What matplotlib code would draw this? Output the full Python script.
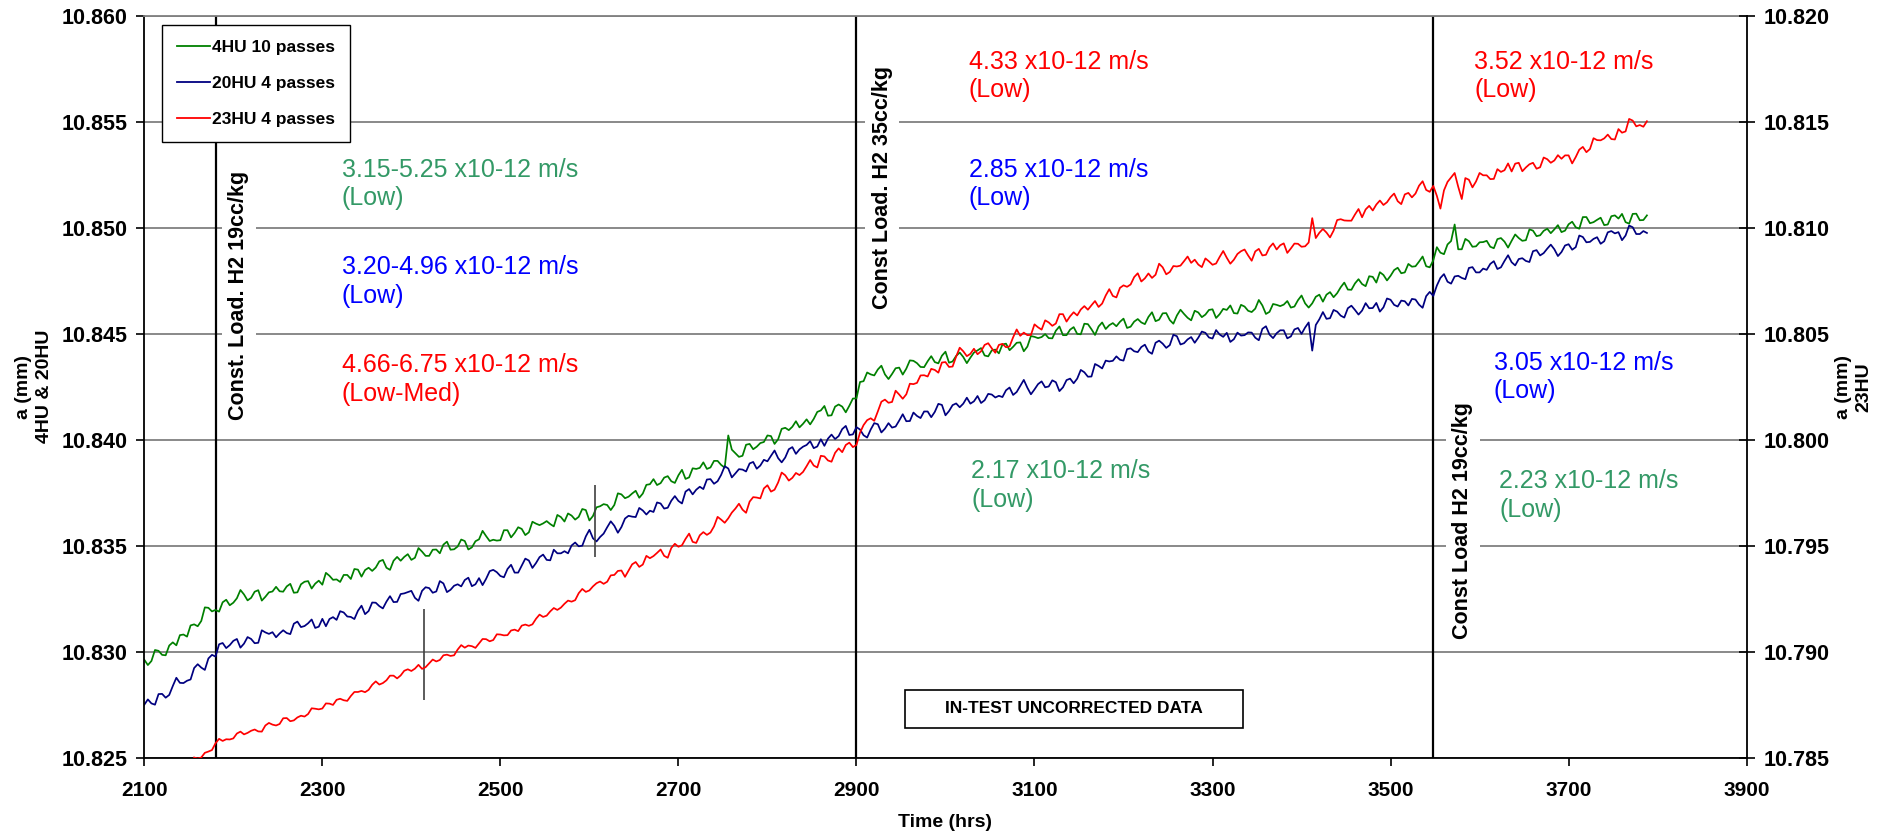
import matplotlib
matplotlib.use("Agg")
import numpy as np
import matplotlib.pyplot as plt
from matplotlib.patches import Rectangle
from matplotlib.ticker import FormatStrFormatter

plt.rcParams['font.family'] = ['Liberation Sans', 'DejaVu Sans']

# ---------------- data ----------------
x_ticks = [2100, 2300, 2500, 2700, 2900, 3100, 3300, 3500, 3700, 3900]
left_ticks = [10.825, 10.830, 10.835, 10.840, 10.845, 10.850, 10.855, 10.860]
right_ticks = [10.785, 10.790, 10.795, 10.800, 10.805, 10.810, 10.815, 10.820]

series_names = ['4HU 10 passes', '20HU 4 passes', '23HU 4 passes']

# readings every 8 h (even samples) and the readings in between (odd samples)
hours_4hu = np.arange(2100, 3789, 4)
hours_20hu = np.arange(2100, 3789, 4)
hours_23hu = np.arange(2156, 3789, 4)

a_4hu_even = [
    10.82962, 10.82956, 10.83004, 10.82983, 10.83044, 10.83078, 10.83071, 10.83129, 10.83145, 10.83207,
    10.83197, 10.83233, 10.83219, 10.83252, 10.83270, 10.83254, 10.83290, 10.83259, 10.83284, 10.83285,
    10.83308, 10.83278, 10.83318, 10.83333, 10.83321, 10.83316, 10.83358, 10.83341, 10.83362, 10.83343,
    10.83387, 10.83385, 10.83381, 10.83426, 10.83396, 10.83429, 10.83429, 10.83460, 10.83443, 10.83472,
    10.83452, 10.83482, 10.83505, 10.83481, 10.83496, 10.83522, 10.83492, 10.83530, 10.83545, 10.83528,
    10.83526, 10.83573, 10.83560, 10.83579, 10.83563, 10.83604, 10.83605, 10.83602, 10.83645, 10.83614,
    10.83642, 10.83636, 10.83668, 10.83640, 10.83686, 10.83692, 10.83692, 10.83742, 10.83731, 10.83759,
    10.83746, 10.83790, 10.83786, 10.83821, 10.83804, 10.83832, 10.83815, 10.83865, 10.83867, 10.83862,
    10.83900, 10.83881, 10.84020, 10.83936, 10.83924, 10.83980, 10.83967, 10.83989, 10.84017, 10.84002,
    10.84056, 10.84061, 10.84058, 10.84096, 10.84098, 10.84138, 10.84113, 10.84156, 10.84156, 10.84160,
    10.84195, 10.84276, 10.84308, 10.84331, 10.84308, 10.84310, 10.84340, 10.84335, 10.84372, 10.84343,
    10.84370, 10.84366, 10.84396, 10.84363, 10.84395, 10.84390, 10.84387, 10.84421, 10.84397, 10.84421,
    10.84407, 10.84453, 10.84438, 10.84459, 10.84439, 10.84485, 10.84484, 10.84479, 10.84514, 10.84493,
    10.84519, 10.84499, 10.84547, 10.84521, 10.84534, 10.84522, 10.84550, 10.84556, 10.84527, 10.84557,
    10.84553, 10.84579, 10.84559, 10.84596, 10.84564, 10.84586, 10.84593, 10.84563, 10.84600, 10.84590,
    10.84615, 10.84592, 10.84612, 10.84597, 10.84636, 10.84608, 10.84618, 10.84633, 10.84603, 10.84636,
    10.84637, 10.84623, 10.84658, 10.84643, 10.84643, 10.84684, 10.84684, 10.84672, 10.84719, 10.84708,
    10.84737, 10.84734, 10.84771, 10.84741, 10.84777, 10.84773, 10.84811, 10.84789, 10.84816, 10.84840,
    10.84818, 10.84846, 10.84882, 10.84921, 10.85015, 10.84898, 10.84936, 10.84912, 10.84932, 10.84910,
    10.84946, 10.84934, 10.84938, 10.84951, 10.84941, 10.84986, 10.84964, 10.84995, 10.84992, 10.84979,
    10.85016, 10.85002, 10.85050, 10.85021, 10.85037, 10.85012, 10.85054, 10.85043, 10.85026, 10.85065,
    10.85035, 10.85058]

a_4hu_odd = [
    10.82937, 10.83008, 10.82985, 10.83029, 10.83030, 10.83081, 10.83124, 10.83120, 10.83209, 10.83190,
    10.83189, 10.83245, 10.83231, 10.83291, 10.83242, 10.83283, 10.83241, 10.83280, 10.83306, 10.83283,
    10.83320, 10.83280, 10.83330, 10.83298, 10.83335, 10.83372, 10.83339, 10.83329, 10.83362, 10.83390,
    10.83354, 10.83396, 10.83397, 10.83433, 10.83386, 10.83447, 10.83447, 10.83433, 10.83489, 10.83452,
    10.83481, 10.83464, 10.83519, 10.83483, 10.83529, 10.83482, 10.83521, 10.83570, 10.83522, 10.83524,
    10.83573, 10.83539, 10.83587, 10.83550, 10.83613, 10.83597, 10.83616, 10.83591, 10.83635, 10.83652,
    10.83623, 10.83673, 10.83619, 10.83681, 10.83696, 10.83668, 10.83747, 10.83724, 10.83746, 10.83726,
    10.83787, 10.83814, 10.83795, 10.83828, 10.83796, 10.83858, 10.83822, 10.83862, 10.83893, 10.83869,
    10.83900, 10.83868, 10.83953, 10.83919, 10.83976, 10.83955, 10.83984, 10.84020, 10.83980, 10.84051,
    10.84045, 10.84087, 10.84075, 10.84072, 10.84131, 10.84159, 10.84115, 10.84166, 10.84129, 10.84194,
    10.84272, 10.84317, 10.84303, 10.84349, 10.84286, 10.84337, 10.84307, 10.84374, 10.84361, 10.84342,
    10.84394, 10.84360, 10.84415, 10.84369, 10.84411, 10.84361, 10.84411, 10.84432, 10.84393, 10.84425,
    10.84449, 10.84422, 10.84457, 10.84417, 10.84489, 10.84479, 10.84498, 10.84478, 10.84534, 10.84493,
    10.84531, 10.84497, 10.84545, 10.84494, 10.84553, 10.84540, 10.84535, 10.84571, 10.84533, 10.84569,
    10.84545, 10.84601, 10.84566, 10.84597, 10.84547, 10.84613, 10.84575, 10.84608, 10.84578, 10.84612,
    10.84574, 10.84617, 10.84633, 10.84595, 10.84628, 10.84602, 10.84659, 10.84593, 10.84640, 10.84630,
    10.84654, 10.84628, 10.84680, 10.84623, 10.84674, 10.84651, 10.84696, 10.84691, 10.84741, 10.84707,
    10.84757, 10.84724, 10.84768, 10.84790, 10.84751, 10.84800, 10.84785, 10.84829, 10.84818, 10.84864,
    10.84813, 10.84908, 10.84875, 10.84937, 10.84898, 10.84947, 10.84910, 10.84931, 10.84938, 10.84903,
    10.84951, 10.84906, 10.84968, 10.84938, 10.84992, 10.84960, 10.84985, 10.84974, 10.85012, 10.84986,
    10.85028, 10.84995, 10.85050, 10.85026, 10.85047, 10.85015, 10.85058, 10.85065, 10.85019, 10.85066,
    10.85036]

a_20hu_even = [
    10.82750, 10.82756, 10.82800, 10.82783, 10.82838, 10.82853, 10.82863, 10.82923, 10.82925, 10.82968,
    10.82977, 10.83041, 10.83031, 10.83060, 10.83038, 10.83060, 10.83042, 10.83091, 10.83092, 10.83086,
    10.83088, 10.83132, 10.83116, 10.83134, 10.83112, 10.83155, 10.83154, 10.83150, 10.83185, 10.83164,
    10.83193, 10.83177, 10.83232, 10.83215, 10.83236, 10.83234, 10.83272, 10.83281, 10.83254, 10.83287,
    10.83300, 10.83284, 10.83322, 10.83292, 10.83318, 10.83338, 10.83309, 10.83347, 10.83344, 10.83386,
    10.83357, 10.83390, 10.83373, 10.83406, 10.83430, 10.83418, 10.83458, 10.83431, 10.83464, 10.83474,
    10.83501, 10.83497, 10.83544, 10.83535, 10.83541, 10.83587, 10.83594, 10.83588, 10.83641, 10.83635,
    10.83666, 10.83665, 10.83704, 10.83675, 10.83712, 10.83711, 10.83755, 10.83742, 10.83778, 10.83812,
    10.83792, 10.83834, 10.83864, 10.83841, 10.83859, 10.83888, 10.83863, 10.83905, 10.83924, 10.83913,
    10.83916, 10.83965, 10.83954, 10.83975, 10.83960, 10.84002, 10.84005, 10.84003, 10.84050, 10.84022,
    10.84059, 10.84021, 10.84048, 10.84073, 10.84052, 10.84057, 10.84090, 10.84087, 10.84128, 10.84102,
    10.84133, 10.84131, 10.84164, 10.84135, 10.84171, 10.84170, 10.84170, 10.84206, 10.84186, 10.84213,
    10.84207, 10.84233, 10.84211, 10.84254, 10.84245, 10.84237, 10.84275, 10.84251, 10.84271, 10.84247,
    10.84288, 10.84288, 10.84318, 10.84298, 10.84348, 10.84373, 10.84372, 10.84377, 10.84427, 10.84417,
    10.84437, 10.84416, 10.84457, 10.84453, 10.84446, 10.84488, 10.84455, 10.84484, 10.84481, 10.84504,
    10.84477, 10.84496, 10.84504, 10.84474, 10.84491, 10.84506, 10.84481, 10.84523, 10.84496, 10.84502,
    10.84516, 10.84487, 10.84527, 10.84529, 10.84420, 10.84568, 10.84570, 10.84612, 10.84585, 10.84620,
    10.84612, 10.84609, 10.84620, 10.84645, 10.84624, 10.84660, 10.84628, 10.84653, 10.84664, 10.84637,
    10.84677, 10.84678, 10.84763, 10.84745, 10.84770, 10.84763, 10.84810, 10.84789, 10.84807, 10.84829,
    10.84805, 10.84843, 10.84837, 10.84852, 10.84843, 10.84889, 10.84869, 10.84901, 10.84898, 10.84885,
    10.84922, 10.84908, 10.84956, 10.84933, 10.84955, 10.84936, 10.84984, 10.84979, 10.84963, 10.85002,
    10.84970, 10.84975]

a_20hu_odd = [
    10.82775, 10.82750, 10.82801, 10.82796, 10.82877, 10.82852, 10.82869, 10.82941, 10.82914, 10.82985,
    10.83035, 10.83017, 10.83051, 10.83019, 10.83069, 10.83040, 10.83101, 10.83084, 10.83068, 10.83101,
    10.83083, 10.83142, 10.83121, 10.83152, 10.83118, 10.83120, 10.83163, 10.83191, 10.83166, 10.83154,
    10.83217, 10.83192, 10.83231, 10.83204, 10.83262, 10.83235, 10.83275, 10.83287, 10.83240, 10.83304,
    10.83278, 10.83333, 10.83281, 10.83311, 10.83308, 10.83349, 10.83318, 10.83314, 10.83380, 10.83375,
    10.83351, 10.83410, 10.83373, 10.83439, 10.83395, 10.83446, 10.83433, 10.83481, 10.83464, 10.83464,
    10.83515, 10.83500, 10.83575, 10.83520, 10.83557, 10.83615, 10.83561, 10.83628, 10.83637, 10.83678,
    10.83647, 10.83659, 10.83699, 10.83679, 10.83734, 10.83699, 10.83767, 10.83764, 10.83767, 10.83814,
    10.83804, 10.83875, 10.83822, 10.83861, 10.83850, 10.83895, 10.83878, 10.83898, 10.83949, 10.83893,
    10.83955, 10.83933, 10.83967, 10.83993, 10.83968, 10.83971, 10.84024, 10.84017, 10.84065, 10.84025,
    10.84048, 10.84010, 10.84078, 10.84034, 10.84078, 10.84062, 10.84120, 10.84088, 10.84112, 10.84133,
    10.84106, 10.84169, 10.84115, 10.84163, 10.84153, 10.84198, 10.84181, 10.84173, 10.84216, 10.84199,
    10.84201, 10.84246, 10.84225, 10.84282, 10.84214, 10.84262, 10.84247, 10.84280, 10.84229, 10.84281,
    10.84266, 10.84329, 10.84297, 10.84357, 10.84336, 10.84369, 10.84393, 10.84373, 10.84431, 10.84413,
    10.84448, 10.84405, 10.84467, 10.84433, 10.84495, 10.84449, 10.84473, 10.84457, 10.84510, 10.84482,
    10.84517, 10.84485, 10.84461, 10.84505, 10.84493, 10.84505, 10.84469, 10.84535, 10.84479, 10.84516,
    10.84478, 10.84520, 10.84499, 10.84553, 10.84541, 10.84602, 10.84573, 10.84604, 10.84576, 10.84632,
    10.84590, 10.84644, 10.84621, 10.84604, 10.84666, 10.84636, 10.84656, 10.84633, 10.84661, 10.84622,
    10.84697, 10.84727, 10.84781, 10.84736, 10.84773, 10.84757, 10.84814, 10.84789, 10.84801, 10.84842,
    10.84813, 10.84870, 10.84822, 10.84856, 10.84838, 10.84894, 10.84880, 10.84920, 10.84866, 10.84916,
    10.84896, 10.84963, 10.84931, 10.84947, 10.84924, 10.84978, 10.84973, 10.84941, 10.85010, 10.84970,
    10.84984]

a_23hu_even = [
    10.78501, 10.78501, 10.78529, 10.78568, 10.78579, 10.78586, 10.78614, 10.78610, 10.78627, 10.78624,
    10.78652, 10.78656, 10.78659, 10.78687, 10.78676, 10.78698, 10.78706, 10.78731, 10.78732, 10.78755,
    10.78773, 10.78771, 10.78791, 10.78810, 10.78809, 10.78844, 10.78845, 10.78865, 10.78887, 10.78888,
    10.78917, 10.78920, 10.78919, 10.78945, 10.78954, 10.78983, 10.78980, 10.79010, 10.79019, 10.79026,
    10.79039, 10.79059, 10.79055, 10.79081, 10.79078, 10.79104, 10.79123, 10.79122, 10.79155, 10.79164,
    10.79190, 10.79197, 10.79226, 10.79236, 10.79276, 10.79282, 10.79308, 10.79331, 10.79330, 10.79362,
    10.79383, 10.79383, 10.79423, 10.79411, 10.79441, 10.79466, 10.79452, 10.79489, 10.79495, 10.79532,
    10.79518, 10.79549, 10.79551, 10.79591, 10.79623, 10.79629, 10.79675, 10.79670, 10.79708, 10.79727,
    10.79770, 10.79755, 10.79798, 10.79832, 10.79820, 10.79833, 10.79875, 10.79878, 10.79924, 10.79902,
    10.79938, 10.79941, 10.79986, 10.79975, 10.80069, 10.80101, 10.80133, 10.80189, 10.80178, 10.80213,
    10.80214, 10.80262, 10.80303, 10.80298, 10.80329, 10.80364, 10.80343, 10.80392, 10.80417, 10.80405,
    10.80403, 10.80447, 10.80431, 10.80447, 10.80436, 10.80483, 10.80490, 10.80493, 10.80544, 10.80519,
    10.80553, 10.80548, 10.80592, 10.80582, 10.80586, 10.80630, 10.80634, 10.80626, 10.80680, 10.80678,
    10.80716, 10.80721, 10.80767, 10.80746, 10.80784, 10.80778, 10.80813, 10.80791, 10.80817, 10.80842,
    10.80834, 10.80826, 10.80855, 10.80825, 10.80862, 10.80858, 10.80849, 10.80889, 10.80869, 10.80888,
    10.80869, 10.80907, 10.80897, 10.80926, 10.80902, 10.80924, 10.80912, 10.81045, 10.80976, 10.80977,
    10.80986, 10.81040, 10.81033, 10.81062, 10.81049, 10.81103, 10.81109, 10.81107, 10.81144, 10.81125,
    10.81157, 10.81143, 10.81198, 10.81178, 10.81197, 10.81090, 10.81216, 10.81258, 10.81135, 10.81226,
    10.81218, 10.81247, 10.81229, 10.81276, 10.81271, 10.81265, 10.81306, 10.81284, 10.81306, 10.81285,
    10.81323, 10.81317, 10.81325, 10.81341, 10.81333, 10.81381, 10.81371, 10.81413, 10.81421, 10.81418,
    10.81465, 10.81454, 10.81505, 10.81484, 10.81502]

a_23hu_odd = [
    10.78496, 10.78523, 10.78536, 10.78589, 10.78587, 10.78591, 10.78623, 10.78617, 10.78633, 10.78623,
    10.78664, 10.78652, 10.78686, 10.78672, 10.78690, 10.78694, 10.78733, 10.78728, 10.78756, 10.78749,
    10.78778, 10.78768, 10.78810, 10.78815, 10.78820, 10.78860, 10.78852, 10.78887, 10.78874, 10.78910,
    10.78909, 10.78938, 10.78927, 10.78963, 10.78961, 10.78986, 10.78983, 10.79031, 10.79029, 10.79018,
    10.79060, 10.79049, 10.79082, 10.79077, 10.79100, 10.79097, 10.79128, 10.79129, 10.79175, 10.79170,
    10.79206, 10.79208, 10.79241, 10.79243, 10.79296, 10.79289, 10.79323, 10.79320, 10.79360, 10.79381,
    10.79353, 10.79412, 10.79400, 10.79452, 10.79451, 10.79482, 10.79443, 10.79509, 10.79502, 10.79557,
    10.79513, 10.79564, 10.79562, 10.79636, 10.79608, 10.79656, 10.79698, 10.79655, 10.79729, 10.79723,
    10.79785, 10.79764, 10.79845, 10.79807, 10.79843, 10.79848, 10.79904, 10.79869, 10.79921, 10.79896,
    10.79959, 10.79975, 10.79965, 10.80033, 10.80092, 10.80089, 10.80179, 10.80174, 10.80231, 10.80193,
    10.80264, 10.80268, 10.80304, 10.80334, 10.80316, 10.80366, 10.80345, 10.80434, 10.80394, 10.80429,
    10.80417, 10.80455, 10.80410, 10.80452, 10.80440, 10.80520, 10.80505, 10.80494, 10.80530, 10.80563,
    10.80537, 10.80592, 10.80557, 10.80601, 10.80614, 10.80613, 10.80654, 10.80642, 10.80710, 10.80671,
    10.80728, 10.80732, 10.80785, 10.80761, 10.80763, 10.80830, 10.80780, 10.80819, 10.80821, 10.80864,
    10.80849, 10.80814, 10.80841, 10.80831, 10.80890, 10.80830, 10.80876, 10.80897, 10.80844, 10.80900,
    10.80872, 10.80926, 10.80917, 10.80881, 10.80925, 10.80910, 10.80930, 10.80951, 10.80994, 10.80954,
    10.81036, 10.81034, 10.81033, 10.81088, 10.81086, 10.81081, 10.81128, 10.81120, 10.81161, 10.81111,
    10.81164, 10.81161, 10.81219, 10.81169, 10.81150, 10.81176, 10.81237, 10.81193, 10.81234, 10.81190,
    10.81258, 10.81247, 10.81230, 10.81263, 10.81303, 10.81302, 10.81266, 10.81299, 10.81278, 10.81331,
    10.81306, 10.81342, 10.81341, 10.81303, 10.81368, 10.81356, 10.81422, 10.81412, 10.81439, 10.81416,
    10.81448, 10.81513, 10.81478, 10.81476]

# short vertical marks
marker_hours = [2414, 2606]
marker_lo = [10.82772, 10.83446]
marker_hi = [10.83201, 10.83786]

# load-change events
event_hours = [2180, 2900, 3548]
event_labels = ['Const. Load. H2 19cc/kg', 'Const Load. H2 35cc/kg', 'Const Load H2 19cc/kg']
event_label_x = [2206, 2929, 3581]
event_label_y = [10.8468, 10.8519, 10.8362]

# crack growth rate annotations
rate_texts = ['3.15-5.25 x10-12 m/s\n(Low)', '3.20-4.96 x10-12 m/s\n(Low)',
              '4.66-6.75 x10-12 m/s\n(Low-Med)', '4.33 x10-12 m/s\n(Low)',
              '2.85 x10-12 m/s\n(Low)', '2.17 x10-12 m/s\n(Low)',
              '3.52 x10-12 m/s\n(Low)', '3.05 x10-12 m/s\n(Low)',
              '2.23 x10-12 m/s\n(Low)']
rate_x = [2322, 2322, 2322, 3026, 3026, 3029, 3594, 3616, 3622]
rate_y = [10.8533, 10.8487, 10.8441, 10.8584, 10.8533, 10.8391, 10.8584, 10.8442, 10.8386]
rate_colors = ['#339966', '#0000FF', '#FF0000', '#FF0000', '#0000FF', '#339966',
               '#FF0000', '#0000FF', '#339966']

note_text = 'IN-TEST UNCORRECTED DATA'


def interleave(even, odd):
    out = np.empty(len(even) + len(odd))
    out[0::2] = even
    out[1::2] = odd
    return out


a_4hu = interleave(a_4hu_even, a_4hu_odd)
a_20hu = interleave(a_20hu_even, a_20hu_odd)
a_23hu = interleave(a_23hu_even, a_23hu_odd)

# ---------------- figure ----------------
fig = plt.figure(figsize=(18.92, 8.33), dpi=100)
ax = fig.add_axes([0.07627, 0.0904, 0.8469, 0.8908])
ax2 = ax.twinx()

ax.set_xlim(2100, 3900)
ax.set_ylim(10.825, 10.860)
ax2.set_ylim(10.785, 10.820)
ax.set_xticks(x_ticks)
ax.set_yticks(left_ticks)
ax2.set_yticks(right_ticks)
ax.yaxis.set_major_formatter(FormatStrFormatter('%.3f'))
ax2.yaxis.set_major_formatter(FormatStrFormatter('%.3f'))

ax.set_axisbelow(True)
ax.grid(axis='y', color='#808080', lw=1.3)
ax.grid(axis='x', visible=False)

for s in ['left', 'bottom']:
    ax.spines[s].set_color('black')
    ax.spines[s].set_linewidth(1.3)
ax.spines['top'].set_color('#808080')
ax.spines['top'].set_linewidth(1.3)
ax.spines['right'].set_visible(False)
for s in ['left', 'bottom', 'top']:
    ax2.spines[s].set_visible(False)
ax2.spines['right'].set_color('black')
ax2.spines['right'].set_linewidth(1.3)

ax.tick_params(axis='y', direction='out', length=6, width=1.2, pad=6, labelsize=15.5)
ax.tick_params(axis='x', direction='out', length=6, width=1.2, pad=11, labelsize=15)
ax2.tick_params(axis='y', direction='inout', length=11, width=1.2, pad=7, labelsize=15.5)
for lab in ax.get_xticklabels() + ax.get_yticklabels() + ax2.get_yticklabels():
    lab.set_fontweight('bold')

# event lines
for h in event_hours:
    ax.axvline(h, color='black', lw=1.6, zorder=1.5)

l1, = ax.plot(hours_4hu, a_4hu, color='#008000', lw=1.25, zorder=2)
l2, = ax.plot(hours_20hu, a_20hu, color='#000080', lw=1.25, zorder=2.1)
l3, = ax2.plot(hours_23hu, a_23hu, color='#FF0000', lw=1.25, zorder=2)
ax.vlines(marker_hours, marker_lo, marker_hi, color='#404040', lw=1.2, zorder=2.2)

# event labels
for xl, yl, t in zip(event_label_x, event_label_y, event_labels):
    ax.text(xl, yl, t, rotation=90, ha='center', va='center', fontsize=15.5,
            fontweight='bold', zorder=4,
            bbox=dict(boxstyle='square,pad=0.3', fc='white', ec='none'))

# rate annotations
for xr, yr, t, c in zip(rate_x, rate_y, rate_texts, rate_colors):
    ax.text(xr, yr, t, color=c, fontsize=18, ha='left', va='top',
            linespacing=1.25, zorder=4)

# note box
ax.add_patch(Rectangle((2954, 10.8264), 380, 0.00179, transform=ax.transData,
                       fc='white', ec='black', lw=1.2, zorder=4))
ax.text(3144, 10.82730, note_text, ha='center', va='center', fontsize=12.5,
        fontweight='bold', zorder=5)

# legend
leg = ax2.legend([l1, l2, l3], series_names, loc='upper left',
                 bbox_to_anchor=(0.011, 0.9875), borderaxespad=0, frameon=True,
                 fancybox=False, edgecolor='black', framealpha=1,
                 prop={'weight': 'bold', 'size': 12.5}, handlelength=1.9,
                 handletextpad=0.15, labelspacing=1.2, borderpad=0.85)
leg.get_frame().set_linewidth(1.0)
for ln in leg.get_lines():
    ln.set_linewidth(1.3)

# axis labels
ax.set_xlabel('Time (hrs)', fontsize=14, fontweight='bold')
ax.xaxis.set_label_coords(0.5, -0.076)
ax.set_ylabel('a (mm)\n4HU & 20HU', fontsize=14, fontweight='bold', linespacing=1.3)
ax.yaxis.set_label_coords(-0.057, 0.5)
ax2.set_ylabel('a (mm)\n23HU', fontsize=14, fontweight='bold', linespacing=1.3)
ax2.yaxis.set_label_coords(1.0551, 0.5)

fig.savefig('out.png', dpi=100)
